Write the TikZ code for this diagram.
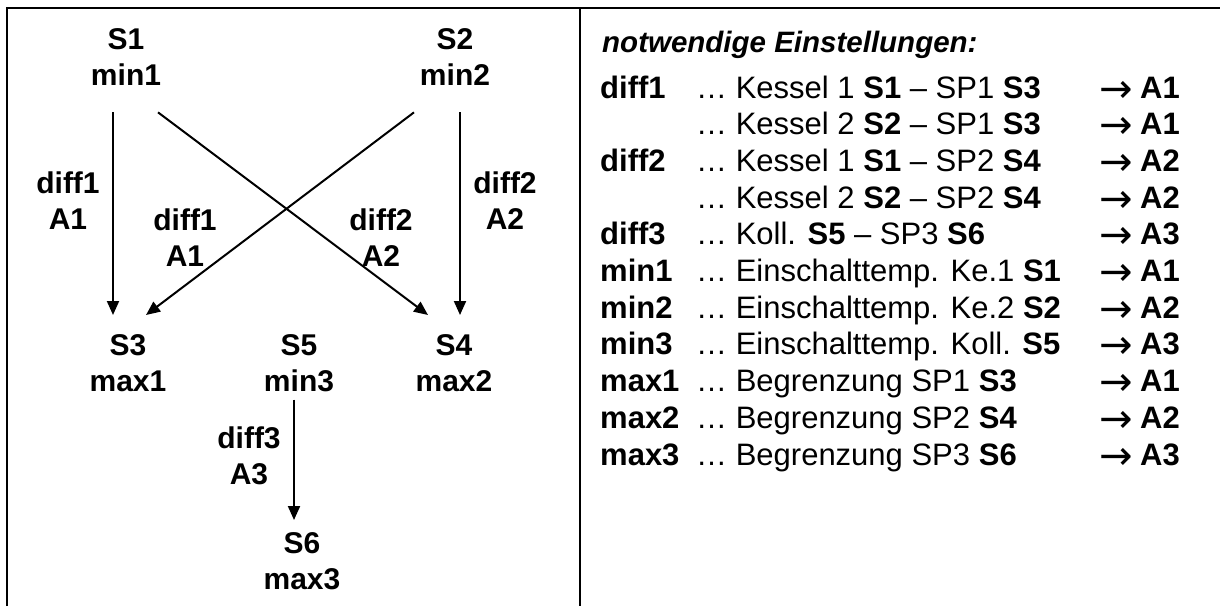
\documentclass[tikz,border=0pt]{standalone}
\usepackage{fontspec}
\setmainfont{Liberation Sans}
\newfontfamily\arrowfont{DejaVu Sans}
\usetikzlibrary{arrows.meta,calc}
\tikzset{
  x=1pt, y=-1pt,
  lbl/.style={font=\fontsize{30}{36}\selectfont\bfseries, align=center, inner sep=0pt, anchor=north},
  rowtxt/.style={font=\fontsize{31}{36}\selectfont, inner sep=0pt, anchor=base west},
  rowkey/.style={font=\fontsize{31}{36}\selectfont\bfseries, inner sep=0pt, anchor=base west},
  rowarrow/.style={font=\fontsize{40}{36}\selectfont\arrowfont, inner sep=0pt, anchor=base west},
  titletxt/.style={font=\fontsize{29.5}{36}\selectfont\bfseries\itshape, inner sep=0pt, anchor=base west},
  conn/.style={line width=2pt, -{Triangle[length=14pt,width=12pt]}},
  frameline/.style={line width=2.5pt}
}
\newcommand\myrow[4]{%
  \node[rowkey] (k#1) at (600,{98+36.7*#1}) {#2};
  \node[rowtxt] (t#1) at (696,{98+36.7*#1}) {#3};
  \node[rowarrow] (p#1) at (1099,{102+36.7*#1}) {→};
  \node[rowkey] (a#1) at (1140,{98+36.7*#1}) {#4};
}
\begin{document}
\begin{tikzpicture}
\useasboundingbox (0,0) rectangle (1220,606);
\fill[white] (0,0) rectangle (1220,606);
% frame
\draw[frameline] (7,606) -- (7,8) -- (1220,8);
\draw[frameline] (580,8) -- (580,606);

% left graph nodes
\node[lbl] (s1) at (126,28) {S1\\min1};
\node[lbl] (s2) at (455,28) {S2\\min2};
\node[lbl] (s3) at (128,334) {S3\\max1};
\node[lbl] (s5) at (299,334) {S5\\min3};
\node[lbl] (s4) at (454,334) {S4\\max2};
\node[lbl] (s6) at (302,532) {S6\\max3};

% edge labels
\node[lbl] (ld1) at (68,172) {diff1\\A1};
\node[lbl] (md1) at (185,209) {diff1\\A1};
\node[lbl] (md2) at (381,209) {diff2\\A2};
\node[lbl] (rd2) at (505,172) {diff2\\A2};
\node[lbl] (d3) at (249,427) {diff3\\A3};

% connectors
\draw[conn] ($(s1.south)+(-13,27)$) -- ($(s3.north)+(-15,-19)$);
\draw[conn] ($(s1.south)+(32,27)$) -- ($(s4.north)+(-26,-19)$);
\draw[conn] ($(s2.south)+(-41,27)$) -- ($(s3.north)+(18,-19)$);
\draw[conn] ($(s2.south)+(5,27)$) -- ($(s4.north)+(6,-19)$);
\draw[conn] ($(s5.south)+(-5,8)$) -- ($(s6.north)+(-8,-12)$);

% right panel
\node[titletxt] (title) at (602,52) {notwendige Einstellungen:};
\myrow{0}{diff1}{… Kessel 1 \textbf{S1} – SP1 \textbf{S3}}{A1}
\myrow{1}{}{… Kessel 2 \textbf{S2} – SP1 \textbf{S3}}{A1}
\myrow{2}{diff2}{… Kessel 1 \textbf{S1} – SP2 \textbf{S4}}{A2}
\myrow{3}{}{… Kessel 2 \textbf{S2} – SP2 \textbf{S4}}{A2}
\myrow{4}{diff3}{… Koll. \textbf{S5} – SP3 \textbf{S6}}{A3}
\myrow{5}{min1}{… Einschalttemp. Ke.1 \textbf{S1}}{A1}
\myrow{6}{min2}{… Einschalttemp. Ke.2 \textbf{S2}}{A2}
\myrow{7}{min3}{… Einschalttemp. Koll. \textbf{S5}}{A3}
\myrow{8}{max1}{… Begrenzung SP1 \textbf{S3}}{A1}
\myrow{9}{max2}{… Begrenzung SP2 \textbf{S4}}{A2}
\myrow{10}{max3}{… Begrenzung SP3 \textbf{S6}}{A3}
\end{tikzpicture}
\end{document}
